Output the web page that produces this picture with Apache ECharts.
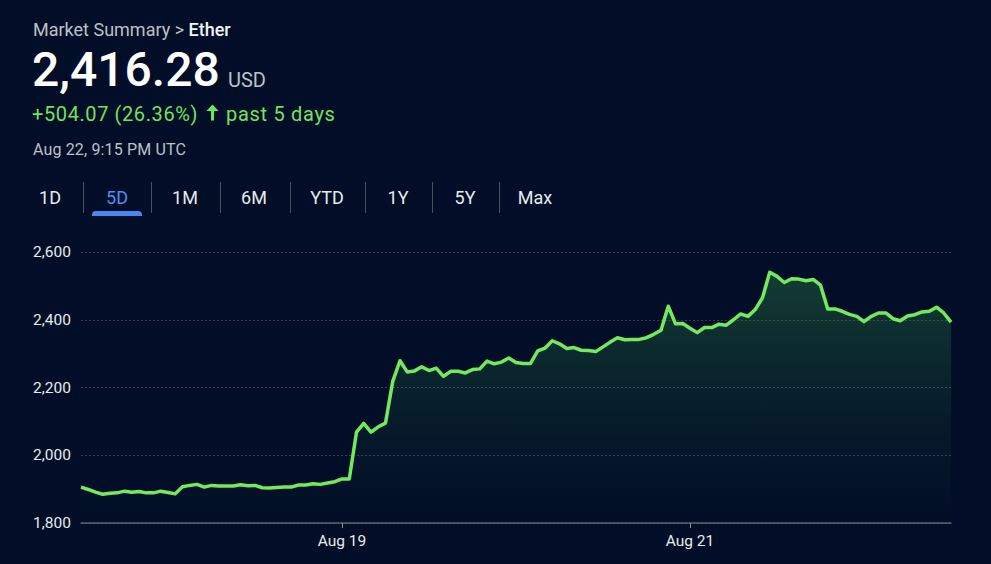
<!DOCTYPE html>
<html>
<head>
<meta charset="utf-8">
<script src="https://cdn.jsdelivr.net/npm/echarts@6/dist/echarts.min.js"></script>
<style>
  html, body { margin: 0; padding: 0; width: 991px; height: 564px; overflow: hidden; background: #020e27; font-family: Roboto, "Noto Sans", sans-serif; }
  #chart { position: absolute; left: 0; top: 0; width: 991px; height: 564px; }
  .t { position: absolute; white-space: nowrap; line-height: 1; }
  #crumb { left: 33px; top: 21px; font-size: 18px; color: #bdc1c6; }
  #crumb b { color: #f1f3f4; font-weight: 500; }
  #price { left: 32px; top: 46px; font-size: 48px; color: #ffffff; font-weight: 500; }
  #cur { left: 228px; top: 70px; font-size: 20px; color: #bdc1c6; }
  #chg { left: 32px; top: 104px; font-size: 20px; color: #71e35f; letter-spacing: 0.6px; }
  #arrow { position: absolute; left: 206px; top: 104px; }
  #past { left: 226px; top: 104px; font-size: 20px; color: #71e35f; letter-spacing: 0.7px; }
  #time { left: 33px; top: 141.5px; font-size: 16px; color: #bdc1c6; letter-spacing: 0.15px; }
  .tab { position: absolute; top: 188.5px; font-size: 18px; color: #e8eaed; transform: translateX(-50%); line-height: 1; white-space: nowrap; }
  .tab.on { color: #4d8ff5; }
  .sep { position: absolute; top: 182px; width: 1px; height: 31px; background: #4a505a; }
  #ul { position: absolute; left: 92px; top: 211px; width: 50px; height: 5px; background: #4a86f0; border-radius: 4px 4px 0 0; }
</style>
</head>
<body>
<div id="chart"></div>
<div class="t" id="crumb">Market Summary &gt; <b>Ether</b></div>
<div class="t" id="price">2,416.28</div>
<div class="t" id="cur">USD</div>
<div class="t" id="chg">+504.07 (26.36%)</div>
<svg id="arrow" width="13" height="17" viewBox="0 0 13 17"><path d="M6.5 0.5 L12.6 7 L8 7 L8 16.5 L5 16.5 L5 7 L0.4 7 Z" fill="#71e35f"/></svg>
<div class="t" id="past">past 5 days</div>
<div class="t" id="time">Aug 22, 9:15 PM UTC</div>
<div id="tabs"></div>
<div id="ul"></div>
<script>
// ---- data ----
const rangeTabs = ['1D', '5D', '1M', '6M', 'YTD', '1Y', '5Y', 'Max'];
const activeTab = '5D';
const tabCenters = [50, 117, 185, 254, 327, 398, 465, 535];
const tabSeparators = [83, 151, 220, 290, 365, 432, 499];

// hourly samples from Aug 17 12:00 to Aug 22 12:00
const days = ['Aug 17', 'Aug 18', 'Aug 19', 'Aug 20', 'Aug 21', 'Aug 22'];
const xTickLabels = ['Aug 19', 'Aug 21'];
const prices = [
  1906, 1899, 1891, 1885, 1888, 1889, 1894, 1891, 1893, 1889,
  1889, 1894, 1890, 1886, 1907, 1911, 1914, 1906, 1911, 1909,
  1909, 1909, 1913, 1910, 1911, 1904, 1903, 1905, 1906, 1906,
  1912, 1912, 1916, 1914, 1918, 1922, 1930, 1930, 2068, 2094,
  2068, 2084, 2095, 2218, 2279, 2246, 2249, 2261, 2250, 2257,
  2233, 2248, 2248, 2243, 2253, 2255, 2278, 2270, 2275, 2287,
  2274, 2271, 2271, 2308, 2316, 2338, 2329, 2315, 2318, 2310,
  2309, 2306, 2320, 2334, 2347, 2341, 2342, 2342, 2347, 2357,
  2369, 2440, 2388, 2389, 2375, 2362, 2377, 2377, 2387, 2384,
  2400, 2417, 2410, 2430, 2465, 2540, 2528, 2510, 2521, 2520,
  2515, 2519, 2502, 2432, 2432, 2425, 2416, 2410, 2395, 2410,
  2420, 2420, 2403, 2397, 2411, 2415, 2423, 2425, 2437, 2420,
  2393
];
const yMin = 1800, yMax = 2600, yStep = 200;

// ---- categories (timestamps) ----
const categories = [];
for (let d = 0; d < days.length; d++) {
  for (let h = 0; h < 24; h++) {
    if (d === 0 && h < 12) continue;
    if (d === days.length - 1 && h > 12) break;
    categories.push(days[d] + ' ' + String(h).padStart(2, '0') + ':00');
  }
}

// ---- tabs ----
const tabsEl = document.getElementById('tabs');
rangeTabs.forEach((t, i) => {
  const el = document.createElement('div');
  el.className = 'tab' + (t === activeTab ? ' on' : '');
  el.style.left = tabCenters[i] + 'px';
  el.textContent = t;
  tabsEl.appendChild(el);
});
tabSeparators.forEach(x => {
  const s = document.createElement('div');
  s.className = 'sep';
  s.style.left = x + 'px';
  tabsEl.appendChild(s);
});

// ---- chart ----
const isTick = (idx, val) => {
  const v = String(val);
  return v.endsWith('00:00') && xTickLabels.includes(v.slice(0, -6));
};

const chart = echarts.init(document.getElementById('chart'), null, { renderer: 'svg' });
chart.setOption({
  backgroundColor: 'transparent',
  animation: false,
  grid: { left: 81, right: 40, top: 252, bottom: 41, containLabel: false },
  xAxis: {
    type: 'category',
    data: categories,
    boundaryGap: false,
    axisLine: { lineStyle: { color: '#5d636d', width: 1.5 } },
    axisTick: { show: true, interval: isTick, length: 5, lineStyle: { color: '#8a9099' } },
    axisLabel: {
      interval: isTick,
      formatter: v => v.slice(0, -6),
      color: '#e8eaed', fontSize: 15.5, margin: 10, fontFamily: 'Roboto'
    },
    splitLine: { show: false }
  },
  yAxis: {
    type: 'value',
    min: yMin, max: yMax, interval: yStep,
    axisLine: { show: false },
    axisTick: { show: false },
    axisLabel: {
      formatter: v => v.toLocaleString('en-US'),
      color: '#e8eaed', fontSize: 15.5, margin: 10, fontFamily: 'Roboto'
    },
    splitLine: { lineStyle: { color: 'rgba(255,255,255,0.2)', type: [2, 2], width: 1 } }
  },
  series: [{
    type: 'line',
    data: prices,
    symbol: 'none',
    smooth: false,
    lineStyle: { color: '#74e85e', width: 3.5, join: 'round' },
    areaStyle: {
      color: new echarts.graphic.LinearGradient(0, 0, 0, 1, [
        { offset: 0, color: 'rgba(70,200,80,0.36)' },
        { offset: 0.55, color: 'rgba(50,170,80,0.14)' },
        { offset: 1, color: 'rgba(30,120,70,0)' }
      ])
    }
  }]
});
</script>
</body>
</html>
